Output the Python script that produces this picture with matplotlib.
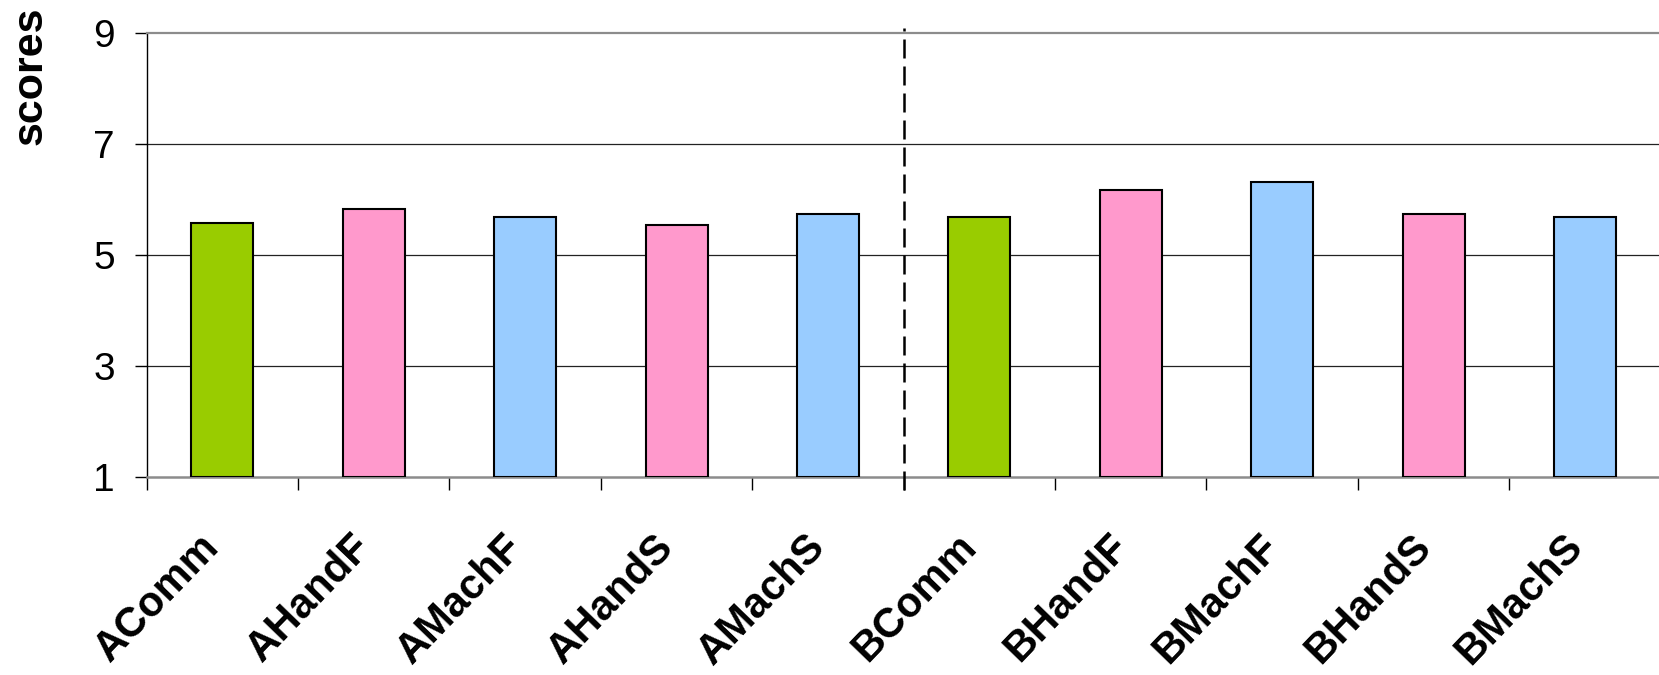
import matplotlib
matplotlib.use("Agg")
import matplotlib.pyplot as plt
import matplotlib.transforms as mtransforms
import numpy as np

plt.rcParams['font.family'] = ['Liberation Sans', 'DejaVu Sans']

categories = ['AComm', 'AHandF', 'AMachF', 'AHandS', 'AMachS',
              'BComm', 'BHandF', 'BMachF', 'BHandS', 'BMachS']
scores = [5.58, 5.83, 5.68, 5.54, 5.74,
          5.68, 6.17, 6.32, 5.73, 5.68]
bar_colors = ['#99CC00', '#FF99CC', '#99CCFF', '#FF99CC', '#99CCFF',
              '#99CC00', '#FF99CC', '#99CCFF', '#FF99CC', '#99CCFF']
y_ticks = [1, 3, 5, 7, 9]

fig = plt.figure(figsize=(16.59, 6.75), dpi=100)
ax = fig.add_axes([0.0884, 0.2938, 0.9126, 0.6573])

base = 1
x = np.arange(len(categories)) + 0.5
ax.bar(x, np.array(scores) - base, bottom=base, width=0.41,
       color=bar_colors, edgecolor='black', linewidth=1.5, zorder=3)

ax.set_xlim(0, len(categories))
ax.set_ylim(1, 9)

# gridlines
ax.set_yticks(y_ticks)
ax.set_yticklabels([str(t) for t in y_ticks], fontsize=28)
for t in [3, 5, 7]:
    ax.axhline(t, color='#222222', linewidth=0.9, zorder=1)

# tick marks on category boundaries, no labels there
ax.set_xticks(np.arange(len(categories) + 1))
ax.set_xticklabels([])
ax.tick_params(axis='x', direction='out', length=9.5, width=1.0, color='black')
ax.tick_params(axis='y', direction='out', length=9, width=1.0, pad=14)

# rotated category names under each bar
offset = mtransforms.ScaledTranslation(-9 / 100, -64 / 100, fig.dpi_scale_trans)
label_tr = ax.get_xaxis_transform() + offset
for xc, name in zip(x, categories):
    ax.text(xc, 0, name, transform=label_tr, rotation=46, ha='right',
            va='center', rotation_mode='anchor', fontsize=30,
            fontweight='bold', clip_on=False)

ax.spines['right'].set_visible(False)
ax.spines['top'].set_color('#8c8c8c')
ax.spines['top'].set_linewidth(1.6)
ax.spines['bottom'].set_color('#8c8c8c')
ax.spines['bottom'].set_linewidth(1.8)
ax.spines['left'].set_color('black')
ax.spines['left'].set_linewidth(1.0)

# separator between group A and group B
ax.axvline(5, ymin=-0.03, ymax=1.011, color='black', linewidth=1.8,
           dashes=(7.6, 3.2), clip_on=False, zorder=4)

fig.text(31 / 1659, 1 - 76 / 675, 'scores', rotation=90, ha='center',
         va='center', fontsize=31, fontweight='bold')

fig.savefig('out.png', dpi=100, facecolor='white')
